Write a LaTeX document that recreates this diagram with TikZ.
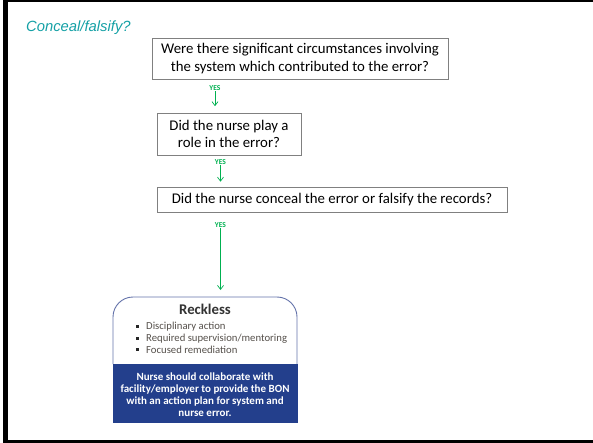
\documentclass[tikz,border=0pt]{standalone}
\usepackage{fontspec}
\setmainfont{Carlito}
\newfontfamily\titlefont{Liberation Sans}
\usetikzlibrary{arrows.meta}
\definecolor{teal1}{RGB}{20,160,165}
\definecolor{yesgreen}{RGB}{0,176,80}
\definecolor{bandblue}{RGB}{35,63,140}
\definecolor{edgeblue}{RGB}{100,115,170}
\definecolor{bodytext}{RGB}{85,80,75}
\begin{document}
\begin{tikzpicture}[x=1pt,y=-1pt,
  qbox/.style={draw=black!50,line width=0.9pt,fill=white,align=center,
    font=\fontsize{14.8}{17.7}\selectfont,inner sep=0pt},
  yes/.style={text=yesgreen,font=\fontsize{7.5}{8}\bfseries\selectfont,inner sep=0pt},
  flow/.style={draw=yesgreen,line width=0.7pt,-{Straight Barb[length=4pt,width=6pt]}},
  bullet/.style={font=\fontsize{10.7}{12}\selectfont,text=bodytext,anchor=west,inner sep=0pt},
  banner/.style={text=white,font=\fontsize{11}{11.8}\bfseries\selectfont,align=center,inner sep=0pt}]
\useasboundingbox (0,0) rectangle (593,443);
% page frame
\fill[black] (3,0) rectangle (7.5,443);
\fill[black] (3,0) rectangle (593,2);
\fill[black] (3,440) rectangle (593,443);
% heading
\node[text=teal1,font=\titlefont\itshape\fontsize{14.8}{16}\selectfont,anchor=west,inner sep=0pt] (title) at (26,28) {Conceal/falsify?};
% question boxes
\node[qbox,minimum width=296pt,minimum height=41pt] (q1) at (300,58.5)
  {Were there significant circumstances involving\\the system which contributed to the error?};
\node[qbox,minimum width=144pt,minimum height=42pt] (q2) at (229,134)
  {Did the nurse play a\\role in the error?};
\node[qbox,minimum width=350pt,minimum height=25pt] (q3) at (332,199.5)
  {Did the nurse conceal the error or falsify the records?};
% yes labels
\node[yes] (y1) at (215,88.5) {YES};
\node[yes] (y2) at (220.5,162) {YES};
\node[yes] (y3) at (220.5,225.5) {YES};
\draw[flow] (y1.south) -- ++(0,15);
\draw[flow] (y2.south) -- ++(0,17);
\coordinate (rtop) at (220.5,290);
\draw[flow] (y3.south) -- (rtop);
% outcome card: white top with rounded upper corners, blue banner below
\fill[white,rounded corners=20pt] (113,364) -- (113,297) -- (297,297) -- (297,364) -- cycle;
\draw[edgeblue,line width=0.9pt,rounded corners=20pt] (113,364) -- (113,297) -- (297,297) -- (297,364);
\fill[bandblue] (112.5,364) rectangle (297.5,423);
\node[font=\fontsize{14.8}{16}\bfseries\selectfont,text=black!80,inner sep=0pt] (rk) at (205,309.5) {Reckless};
\foreach \yy/\tt [count=\i] in {327/{Disciplinary action},338.5/{Required supervision/mentoring},350/{Focused remediation}}{
  \fill[black!85] (136,\yy-1.6) rectangle (139,\yy+1.4);
  \node[bullet] (b\i) at (146,\yy) {\tt};
}
\node[banner] (band) at (205,394.5) {Nurse should collaborate with\\facility/employer to provide the BON\\with an action plan for system and\\nurse error.};
\end{tikzpicture}
\end{document}
